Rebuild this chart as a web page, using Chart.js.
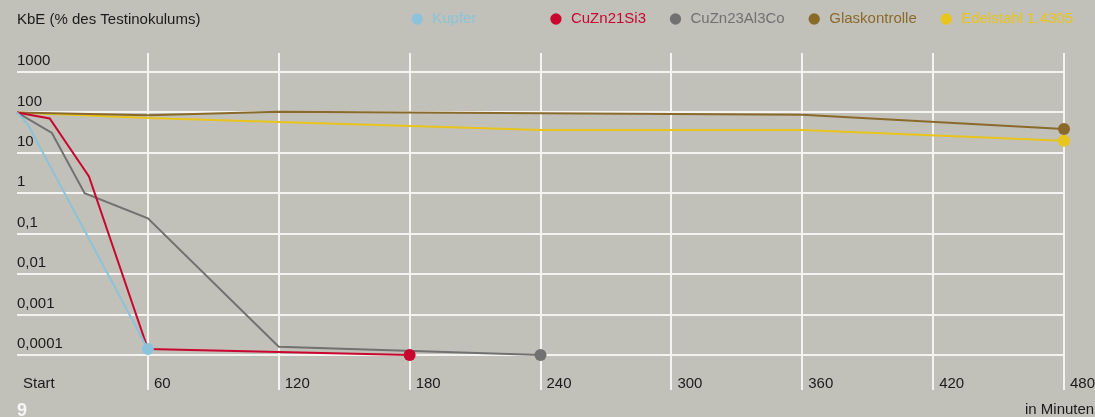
<!DOCTYPE html>
<html><head><meta charset="utf-8">
<script src="https://cdn.jsdelivr.net/npm/chart.js@4.4.1/dist/chart.umd.min.js"></script>
<style>html,body{margin:0;padding:0;background:#c1c1b9;}#wrap{width:1095px;height:417px;position:relative;}</style>
</head><body><div id="wrap"><canvas id="c"></canvas></div>
<script>
// ---- data ----
const seriesNames = ['Kupfer', 'CuZn21Si3', 'CuZn23Al3Co', 'Glaskontrolle', 'Edelstahl 1.4305'];
const kupferMin = [0, 5, 60];
const kupferVal = [100, 50, 0.00014];
const cuZn21Si3Min = [0, 15, 33, 60, 180];
const cuZn21Si3Val = [100, 71, 2.6, 0.00014, 0.0001];
const cuZn23Al3CoMin = [0, 16, 31, 60, 120, 240];
const cuZn23Al3CoVal = [100, 31, 1.0, 0.24, 0.00016, 0.0001];
const glasMin = [0, 60, 120, 360, 480];
const glasVal = [100, 85, 104, 88, 39];
const edelstahlMin = [0, 60, 120, 240, 360, 480];
const edelstahlVal = [100, 73, 58, 37, 37, 20];
const xTickValues = [0, 60, 120, 180, 240, 300, 360, 420, 480];
const xTickLabels = ['Start', '60', '120', '180', '240', '300', '360', '420', '480'];
const yTickValues = [0.0001, 0.001, 0.01, 0.1, 1, 10, 100, 1000];
const yTickLabels = ['0,0001', '0,001', '0,01', '0,1', '1', '10', '100', '1000'];
const yAxisTitle = 'KbE (% des Testinokulums)';
const xAxisTitle = 'in Minuten';
const pageNumber = '9';

// ---- style ----
const seriesColors = ['#8cc3da', '#c8062f', '#717171', '#8a6a2a', '#e8c41c'];
const textColor = '#1b1b1b';
const gridColor = '#f3f3f0';
const FONT = "'Liberation Sans', Arial, Helvetica, sans-serif";

Chart.defaults.font.family = FONT;
Chart.defaults.font.size = 15;
Chart.defaults.color = textColor;

function mk(name, mins, vals, color) {
  return {
    label: name,
    data: mins.map((m, j) => ({ x: m, y: vals[j] })),
    borderColor: color,
    backgroundColor: color,
    borderWidth: 2,
    pointRadius: c => (c.dataIndex === mins.length - 1 ? 6 : 0),
    pointHoverRadius: 0,
    pointBorderWidth: 0,
    pointStyle: 'circle',
    tension: 0,
    clip: false,
    xAxisID: 'x',
    yAxisID: 'y'
  };
}

const vGrid = c => (c.tick && c.tick.value === 0) ? 'rgba(0,0,0,0)' : gridColor;

const textPlugin = {
  id: 'freeText',
  afterDraw(chart) {
    const ctx = chart.ctx;
    const left = chart.chartArea.left;
    ctx.save();
    ctx.fillStyle = textColor;
    ctx.font = '15px ' + FONT;
    ctx.textAlign = 'left';
    ctx.textBaseline = 'middle';
    ctx.fillText(yAxisTitle, left, 20);
    ctx.fillText(xAxisTitle, 1025, 410);
    ctx.fillStyle = '#f6f6f4';
    ctx.font = 'bold 18px ' + FONT;
    ctx.textBaseline = 'alphabetic';
    ctx.fillText(pageNumber, left, 416);
    ctx.restore();
  }
};

// extra spacing after the first legend entry (the legend slots are wider than the text)
const legendTrailing = [' '.repeat(12), '', '', '', ''];

new Chart(document.getElementById('c'), {
  type: 'line',
  data: {
    datasets: [
      mk(seriesNames[0], kupferMin, kupferVal, seriesColors[0]),
      mk(seriesNames[1], cuZn21Si3Min, cuZn21Si3Val, seriesColors[1]),
      mk(seriesNames[2], cuZn23Al3CoMin, cuZn23Al3CoVal, seriesColors[2]),
      mk(seriesNames[3], glasMin, glasVal, seriesColors[3]),
      mk(seriesNames[4], edelstahlMin, edelstahlVal, seriesColors[4])
    ]
  },
  options: {
    responsive: true,
    maintainAspectRatio: false,
    animation: false,
    events: [],
    layout: { padding: { left: 17, right: 0, top: -10.5, bottom: 24 } },
    plugins: {
      tooltip: { enabled: false },
      legend: {
        position: 'top',
        align: 'end',
        labels: {
          usePointStyle: true,
          pointStyle: 'circle',
          boxWidth: 15,
          boxHeight: 8,
          padding: 22,
          font: { size: 15 },
          generateLabels: chart => Chart.defaults.plugins.legend.labels.generateLabels(chart).map((it, i) =>
            Object.assign(it, { text: it.text + legendTrailing[i], fontColor: seriesColors[i], fillStyle: seriesColors[i], strokeStyle: seriesColors[i], lineWidth: 0, pointStyle: 'circle' }))
        }
      }
    },
    scales: {
      x: {
        type: 'linear', position: 'bottom', min: 0, max: 480,
        afterBuildTicks: s => { s.ticks = xTickValues.map(v => ({ value: v })); },
        border: { display: false },
        grid: { color: vGrid, lineWidth: 2, drawTicks: true, tickLength: 35 },
        ticks: {
          align: 'start', labelOffset: 6, padding: -15, maxRotation: 0, minRotation: 0, autoSkip: false,
          callback: v => xTickLabels[xTickValues.indexOf(v)], color: textColor, font: { size: 15 }
        },
        afterFit: s => { s.height = 38; }
      },
      xTop: {
        type: 'linear', axis: 'x', position: 'top', min: 0, max: 480,
        afterBuildTicks: s => { s.ticks = xTickValues.map(v => ({ value: v })); },
        border: { display: false },
        grid: { color: vGrid, lineWidth: 2, drawOnChartArea: false, drawTicks: true, tickLength: 19 },
        ticks: { display: false },
        afterFit: s => { s.height = 35.5; }
      },
      y: {
        type: 'logarithmic', position: 'left', min: 0.0001, max: 1000,
        afterBuildTicks: s => { s.ticks = yTickValues.map(v => ({ value: v })); },
        border: { display: false },
        grid: { color: gridColor, lineWidth: 2, drawTicks: false },
        ticks: {
          mirror: true, padding: 0, labelOffset: -11, autoSkip: false,
          callback: v => yTickLabels[yTickValues.indexOf(v)], color: textColor, font: { size: 15 }
        }
      },
      yR: {
        type: 'linear', axis: 'y', position: 'right',
        border: { display: false },
        grid: { display: false, drawTicks: false },
        ticks: { display: false },
        afterFit: s => { s.width = 31; }
      }
    }
  },
  plugins: [textPlugin]
});
</script>
</body></html>
